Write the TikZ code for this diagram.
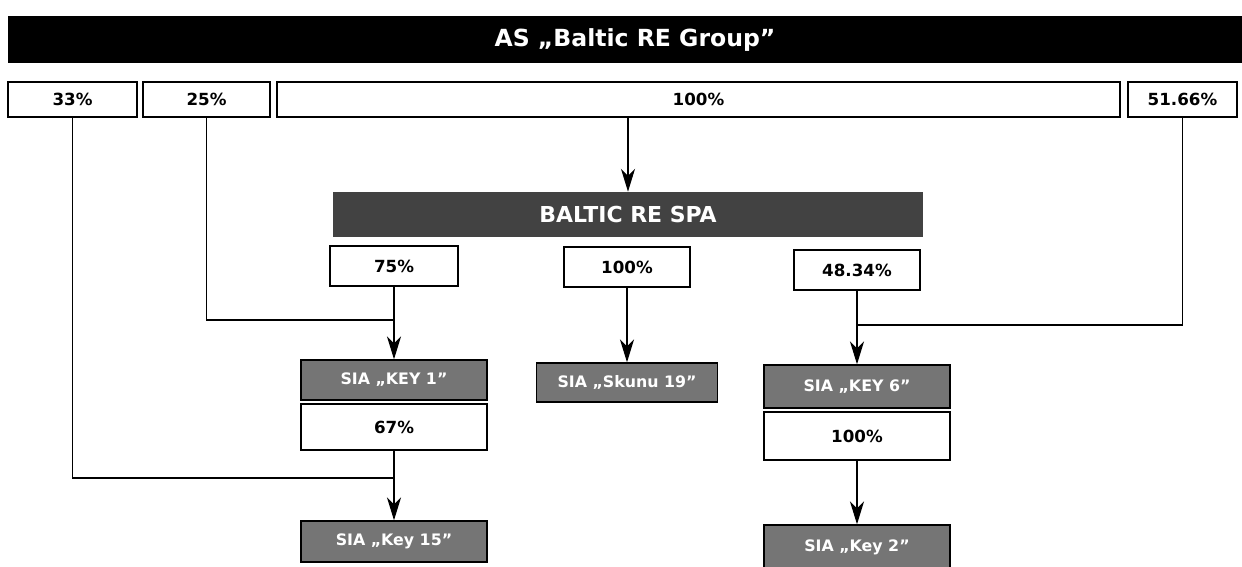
\documentclass[tikz,border=0pt]{standalone}
\usepackage{fontspec}
\setmainfont{DejaVu Sans}
\usepackage{tikz}
\usetikzlibrary{arrows.meta, positioning}

\begin{document}
\begin{tikzpicture}[
			x=0.02cm, y=-0.02cm,
			every node/.style={font=\bfseries, inner sep=0pt},
			pct/.style={draw, fill=white, line width=0.8pt, minimum width=#1*0.02cm,
				font=\bfseries\fontsize{9.5}{11}\selectfont},
			pct/.default=127,
			bar/.style={fill=black, text=white, minimum height=47*0.02cm,
				font=\bfseries\fontsize{13.4}{15}\selectfont},
			firm/.style={draw, fill=gray!92!black, text=white, line width=0.8pt,
				minimum width=186*0.02cm, font=\bfseries\fontsize{9}{11}\selectfont},
			arr/.style={-{Stealth[length=13pt, width=8pt, inset=4pt]}, line width=0.6pt},
			link/.style={line width=0.6pt},
			]
			\useasboundingbox (0,0) rectangle (1242,567);

			% Owner
			\node[bar, minimum width=1234*0.02cm] (group) at (625,40)
			{\hspace*{0.4cm}AS „Baltic RE Group”};

			% Direct shares
			\node[pct=129, minimum height=35*0.02cm] (p33) at (72.5,99.5) {33\%};
			\node[pct, minimum height=35*0.02cm] (p25) at (206.5,99.5) {25\%};
			\node[pct=843, minimum height=35*0.02cm] (ptop) at (698.5,99.5) {100\%};
			\node[pct=109, minimum height=35*0.02cm] (p5166) at (1182.5,99.5) {51.66\%};

			% Holding
			\node[bar, fill=black!74, minimum width=590*0.02cm, minimum height=45*0.02cm,
				font=\bfseries\fontsize{12.5}{14}\selectfont] (spa) at (628,214.5) {BALTIC RE SPA};

			\node[pct=128, minimum height=40*0.02cm] (p75) at (394,266) {75\%};
			\node[pct=126, minimum height=40*0.02cm] (pmid) at (627,267) {100\%};
			\node[pct=126, minimum height=40*0.02cm] (p4834) at (857,270) {48.34\%};

			% Companies
			\node[firm, minimum height=40*0.02cm] (key1) at (394,380) {SIA „KEY 1”};
			\node[firm, minimum width=181*0.02cm, minimum height=39*0.02cm] (skunu) at (627,382.5) {SIA „Skunu 19”};
			\node[firm, minimum height=43*0.02cm] (key6) at (857,386.5) {SIA „KEY 6”};

			\node[pct=186, minimum height=46*0.02cm] (p67) at (394,427) {67\%};
			\node[pct=186, minimum height=48*0.02cm] (p100b) at (857,436) {100\%};

			\node[firm, minimum height=41*0.02cm] (key15) at (394,541.5) {SIA „Key 15”};
			\node[firm, minimum height=44*0.02cm] (key2) at (857,547) {SIA „Key 2”};

			% Junctions
			\coordinate (j1) at (394,320);
			\coordinate (j6) at (857,325);
			\coordinate (j15) at (394,478);

			% Arrows
			\draw[arr] (spa.north |- ptop.south) -- (spa.north);
			\draw[arr] (p75) -- (key1);
			\draw[arr] (pmid) -- (skunu);
			\draw[arr] (p4834) -- (key6);
			\draw[arr] (p67) -- (key15);
			\draw[arr] (p100b) -- (key2);

			% Side links
			\draw[link] (p25.south) |- (j1);
			\draw[link] (p5166.south) |- (j6);
			\draw[link] (p33.south) |- (j15);
		\end{tikzpicture}
\end{document}
